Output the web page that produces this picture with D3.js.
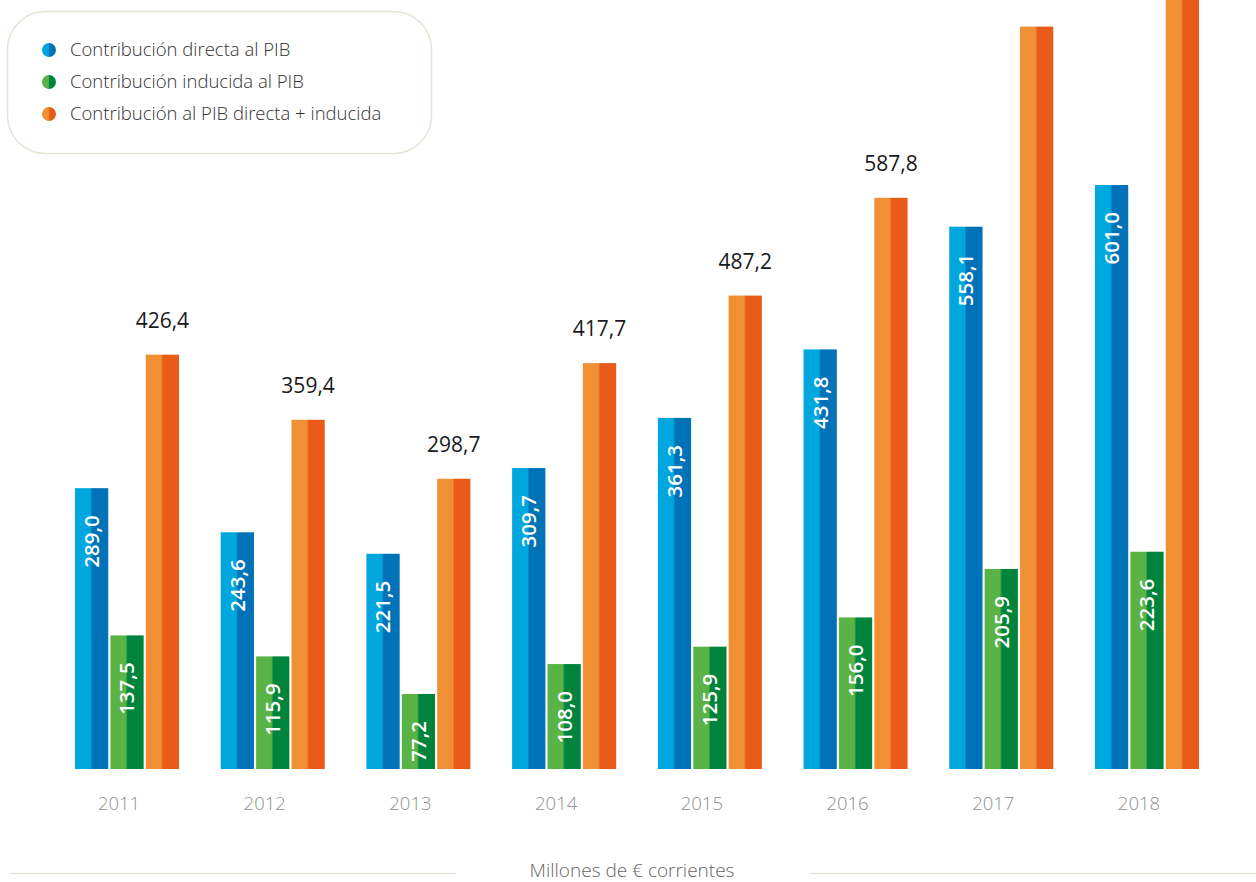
<!DOCTYPE html>
<html>
<head>
<meta charset="utf-8">
<script src="https://cdn.jsdelivr.net/npm/d3@7"></script>
<style>
  html, body { margin: 0; padding: 0; background: #fff; }
  svg { display: block; font-family: "Open Sans", sans-serif; }
</style>
</head>
<body>
<svg id="chart"></svg>
<script>
const width = 1256;
const height = 882;

// data
const years = ["2011", "2012", "2013", "2014", "2015", "2016", "2017", "2018"];
const directa = [289.0, 243.6, 221.5, 309.7, 361.3, 431.8, 558.1, 601.0];
const inducida = [137.5, 115.9, 77.2, 108.0, 125.9, 156.0, 205.9, 223.6];
const total = [426.4, 359.4, 298.7, 417.7, 487.2, 587.8, 764.0, 824.6];
const seriesNames = [
  "Contribución directa al PIB",
  "Contribución inducida al PIB",
  "Contribución al PIB directa + inducida"
];
const seriesKeys = ["directa", "inducida", "total"];
const lightColors = ["#00a7de", "#5ab345", "#f18f34"];
const darkColors = ["#0072b7", "#00843d", "#e95b19"];

const fmt = v => v.toFixed(1).replace(".", ",");

const rows = years.map((y, i) => ({
  year: y,
  directa: directa[i],
  inducida: inducida[i],
  total: total[i]
}));

const svg = d3.select("#chart").attr("width", width).attr("height", height);

// two-tone gradients, light left half / dark right half
const defs = svg.append("defs");
seriesKeys.forEach((k, i) => {
  const g = defs.append("linearGradient")
    .attr("id", "grad-" + k)
    .attr("x1", "0%").attr("x2", "100%")
    .attr("y1", "0%").attr("y2", "0%");
  g.append("stop").attr("offset", "0%").attr("stop-color", lightColors[i]);
  g.append("stop").attr("offset", "46%").attr("stop-color", lightColors[i]);
  g.append("stop").attr("offset", "52%").attr("stop-color", darkColors[i]);
  g.append("stop").attr("offset", "100%").attr("stop-color", darkColors[i]);
});

const baseline = 769;

const x0 = d3.scaleBand()
  .domain(years)
  .range([75, 1199])
  .paddingInner(0.286)
  .paddingOuter(0);

const x1 = d3.scaleBand()
  .domain(seriesKeys)
  .range([0, x0.bandwidth()])
  .paddingInner(0.06);

const y = d3.scaleLinear()
  .domain([0, 601])
  .range([baseline, 185]);

// bars
const groups = svg.append("g")
  .selectAll("g")
  .data(rows)
  .join("g")
  .attr("transform", d => "translate(" + x0(d.year) + ",0)");

groups.selectAll("rect")
  .data(d => seriesKeys.map(k => ({ key: k, value: d[k] })))
  .join("rect")
  .attr("x", d => x1(d.key))
  .attr("y", d => y(d.value))
  .attr("width", x1.bandwidth())
  .attr("height", d => baseline - y(d.value))
  .attr("fill", d => "url(#grad-" + d.key + ")");

// white labels inside the blue and green bars
groups.selectAll("text.inner")
  .data(d => ["directa", "inducida"].map(k => ({ key: k, value: d[k] })))
  .join("text")
  .attr("class", "inner")
  .attr("transform", d => {
    const cx = x1(d.key) + x1.bandwidth() / 2;
    return "translate(" + cx + "," + (y(d.value) + 27) + ") rotate(-90)";
  })
  .attr("dy", "0.36em")
  .attr("text-anchor", "end")
  .attr("fill", "#fff")
  .style("font-size", "20.5px")
  .style("font-weight", 600)
  .text(d => fmt(d.value));

// dark labels above the orange bars (only those that fit on the page)
groups.filter(d => y(d.total) - 27 > 16)
  .append("text")
  .attr("x", x1("total") + x1.bandwidth() / 2)
  .attr("y", d => y(d.total) - 27)
  .attr("text-anchor", "middle")
  .attr("fill", "#1a1a1a")
  .style("font-size", "21px")
  .text(d => fmt(d.total));

// year labels
const xAxis = svg.append("g")
  .attr("transform", "translate(-8," + (baseline + 14) + ")")
  .call(d3.axisBottom(x0).tickSize(0).tickPadding(14));
xAxis.select(".domain").remove();
xAxis.selectAll("text")
  .attr("fill", "#8f8f8f")
  .style("font-family", "'Open Sans', sans-serif")
  .style("font-size", "18.5px")
  .style("font-weight", 300);

// footer
svg.append("line")
  .attr("x1", 10).attr("x2", 456)
  .attr("y1", 873.5).attr("y2", 873.5)
  .attr("stroke", "#e3e3da").attr("stroke-width", 1.5);
svg.append("line")
  .attr("x1", 810).attr("x2", 1256)
  .attr("y1", 873.5).attr("y2", 873.5)
  .attr("stroke", "#e3e3da").attr("stroke-width", 1.5);
svg.append("text")
  .attr("x", 632)
  .attr("y", 877)
  .attr("text-anchor", "middle")
  .attr("fill", "#666")
  .style("font-size", "19px")
  .style("font-weight", 300)
  .text("Millones de € corrientes");

// legend
const legend = svg.append("g");
legend.append("rect")
  .attr("x", 7.5).attr("y", 11.5)
  .attr("width", 424).attr("height", 142)
  .attr("rx", 38).attr("ry", 38)
  .attr("fill", "#fff")
  .attr("stroke", "#e2e8d6")
  .attr("stroke-width", 1.5);

const items = legend.selectAll("g.item")
  .data(seriesNames)
  .join("g")
  .attr("class", "item")
  .attr("transform", (d, i) => "translate(49," + (50 + i * 32) + ")");

items.append("circle")
  .attr("r", 7)
  .attr("fill", (d, i) => "url(#grad-" + seriesKeys[i] + ")");

items.append("text")
  .attr("x", 21)
  .attr("dy", "0.35em")
  .attr("fill", "#333")
  .style("font-size", "18.5px")
  .style("font-weight", 300)
  .text(d => d);
</script>
</body>
</html>
